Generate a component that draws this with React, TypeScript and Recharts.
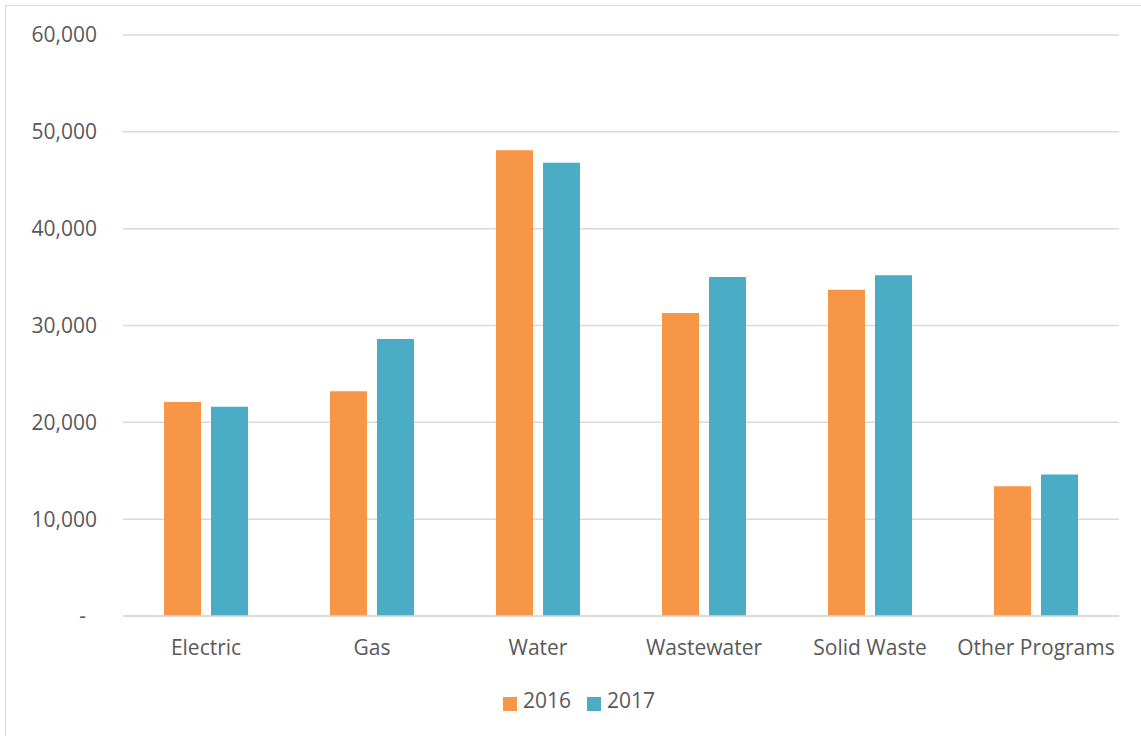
import React from "react";
import { BarChart, Bar, XAxis, YAxis, CartesianGrid, Legend } from "recharts";

const categories = ["Electric", "Gas", "Water", "Wastewater", "Solid Waste", "Other Programs"];
const values2016 = [22100, 23200, 48100, 31300, 33700, 13400];
const values2017 = [21600, 28600, 46800, 35000, 35200, 14600];
const yTicks = [0, 10000, 20000, 30000, 40000, 50000, 60000];

const data = categories.map((name, i) => ({
  name,
  "2016": values2016[i],
  "2017": values2017[i],
}));

const FONT = "'Open Sans', sans-serif";
const TEXT = "#595959";
const GRID = "#d9d9d9";
const FS = 21;

function YTick({ x, y, payload }: any) {
  const v = payload.value as number;
  const label = v === 0 ? "-" : v.toLocaleString("en-US");
  return (
    <text
      x={v === 0 ? x - 11 : x}
      y={y}
      dy="0.35em"
      textAnchor="end"
      fill={TEXT}
      fontSize={FS}
      fontFamily={FONT}
    >
      {label}
    </text>
  );
}

export default function App() {
  return (
    <div
      style={{
        position: "absolute",
        left: 0,
        top: 0,
        width: 1141,
        height: 736,
        background: "#fff",
        overflow: "hidden",
      }}
    >
      <div
        style={{
          position: "absolute",
          left: 5,
          top: 5,
          width: 1160,
          height: 760,
          border: "1.5px solid #d9d9d9",
          boxSizing: "border-box",
        }}
      />
      <BarChart
        width={1141}
        height={736}
        data={data}
        margin={{ top: 35, right: 22, left: 1, bottom: 32 }}
        barSize={37}
        barGap={10}
        style={{ position: "absolute", left: 0, top: 0, fontFamily: FONT }}
      >
        <CartesianGrid vertical={false} stroke={GRID} strokeWidth={1.5} />
        <XAxis
          dataKey="name"
          axisLine={{ stroke: GRID, strokeWidth: 1.5 }}
          tickLine={false}
          tickMargin={18}
          height={60}
          tick={{ fill: TEXT, fontSize: FS, fontFamily: FONT }}
        />
        <YAxis
          width={122}
          domain={[0, 60000]}
          ticks={yTicks}
          axisLine={false}
          tickLine={false}
          tickMargin={20}
          tick={<YTick />}
        />
        <Legend
          verticalAlign="bottom"
          align="left"
          iconType="square"
          iconSize={14}
          wrapperStyle={{ left: 503, top: 686, bottom: "auto", width: 240 }}
          formatter={(value) => (
            <span style={{ color: TEXT, fontSize: FS, fontFamily: FONT, marginLeft: 2, marginRight: 6 }}>
              {value}
            </span>
          )}
        />
        <Bar dataKey="2016" fill="#F79646" isAnimationActive={false} />
        <Bar dataKey="2017" fill="#4BACC6" isAnimationActive={false} />
      </BarChart>
    </div>
  );
}
